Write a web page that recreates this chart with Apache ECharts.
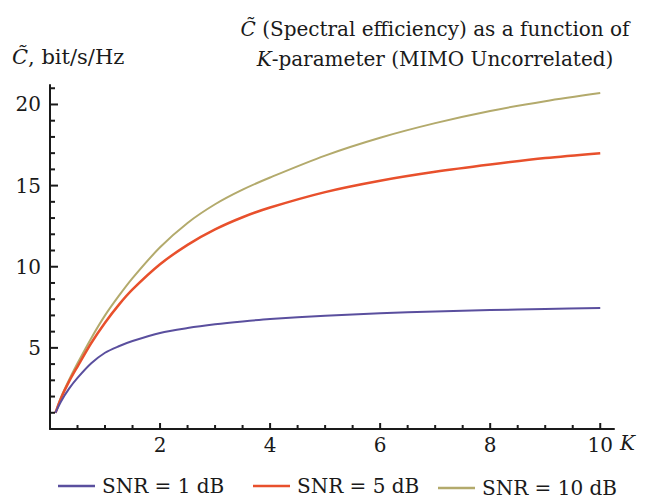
<!DOCTYPE html>
<html>
<head>
<meta charset="utf-8">
<script src="https://cdn.jsdelivr.net/npm/echarts@6/dist/echarts.min.js"></script>
<style>
  html, body { margin: 0; padding: 0; background: #fff; }
  #chart { width: 657px; height: 503px; }
</style>
</head>
<body>
<div id="chart"></div>
<script>
// values
const kValues = [0.1, 0.2, 0.35, 0.5, 0.75, 1, 1.25, 1.5, 2, 2.5, 3, 3.5, 4, 5, 6, 7, 8, 9, 10];
const snr1 = [1.0, 1.7, 2.5, 3.15, 4.05, 4.7, 5.1, 5.42, 5.92, 6.22, 6.45, 6.63, 6.78, 6.98, 7.13, 7.24, 7.33, 7.4, 7.46];
const snr5 = [1.0, 1.9, 2.95, 3.85, 5.3, 6.55, 7.65, 8.6, 10.15, 11.35, 12.3, 13.05, 13.65, 14.6, 15.3, 15.85, 16.3, 16.7, 17.0];
const snr10 = [1.0, 1.95, 3.05, 4.05, 5.6, 7.0, 8.2, 9.3, 11.2, 12.7, 13.85, 14.75, 15.5, 16.85, 17.95, 18.85, 19.6, 20.2, 20.7];
const seriesNames = ['SNR = 1 dB', 'SNR = 5 dB', 'SNR = 10 dB'];
const seriesColors = ['#5a4f9e', '#e8502c', '#b3aa6c'];
const xMajorTicks = [2, 4, 6, 8, 10];
const xMinorTicks = [0.5, 1, 1.5, 2.5, 3, 3.5, 4.5, 5, 5.5, 6.5, 7, 7.5, 8.5, 9, 9.5];
const yMajorTicks = [5, 10, 15, 20];
const yMinorTicks = [1, 2, 3, 4, 6, 7, 8, 9, 11, 12, 13, 14, 16, 17, 18, 19, 21];

const font = 'DejaVu Serif';
const ink = '#1a1a1a';
const fs = 20;

const chart = echarts.init(document.getElementById('chart'), null, { renderer: 'svg' });

const toPairs = (ys) => kValues.map((k, i) => [k, ys[i]]);

const legendText = { fontFamily: font, fontSize: fs, color: ink, padding: [0, 0, 0, 2] };

const option = {
  animation: false,
  backgroundColor: '#fff',
  textStyle: { fontFamily: font, color: ink },
  title: [
    {
      text: '{i|C\u0303} (Spectral efficiency) as a function of\n{i|K}-parameter (MIMO Uncorrelated)',
      left: 430, top: 9, textAlign: 'center',
      textStyle: {
        fontFamily: font, fontSize: fs, fontWeight: 'normal', color: ink, lineHeight: 30,
        rich: { i: { fontFamily: font, fontStyle: 'italic', fontSize: fs, color: ink, lineHeight: 30 } }
      }
    },
    {
      text: '{i|C\u0303}, bit/s/Hz',
      left: 7, top: 41,
      textStyle: {
        fontFamily: font, fontSize: 21, fontWeight: 'normal', color: ink,
        rich: { i: { fontFamily: font, fontStyle: 'italic', fontSize: 21, color: ink } }
      }
    }
  ],
  legend: seriesNames.map((name, i) => ({
    data: [name],
    left: [53, 248, 433][i],
    bottom: i === 2 ? 0 : 2,
    icon: 'rect',
    itemWidth: 37, itemHeight: 2.5,
    textStyle: legendText
  })),
  grid: { left: 50, right: 43, top: 85, bottom: 74 },
  xAxis: {
    type: 'value', min: 0, max: 10.25, interval: 2,
    name: 'K', nameLocation: 'end', nameGap: 6,
    nameTextStyle: { fontFamily: font, fontStyle: 'italic', fontSize: fs, color: ink, verticalAlign: 'top', padding: [4, 0, 0, 0] },
    axisLine: { show: true, lineStyle: { color: ink, width: 2 } },
    axisTick: { show: false },
    axisLabel: {
      fontFamily: font, fontSize: fs, color: ink, margin: 6,
      formatter: (v) => (v > 0 && v % 2 === 0 ? String(v) : '')
    },
    splitLine: { show: false }
  },
  yAxis: {
    type: 'value', min: 0, max: 21.2, interval: 5,
    axisLine: { show: true, lineStyle: { color: ink, width: 2 } },
    axisTick: { show: false },
    axisLabel: {
      fontFamily: font, fontSize: fs, color: ink, margin: 9,
      formatter: (v) => (v > 0 && v % 5 === 0 ? String(v) : '')
    },
    splitLine: { show: false }
  },
  series: [snr1, snr5, snr10].map((ys, i) => ({
    name: seriesNames[i],
    type: 'line',
    smooth: 0.3,
    symbol: 'none',
    data: toPairs(ys),
    color: seriesColors[i],
    lineStyle: { color: seriesColors[i], width: i === 1 ? 2.5 : 2 },
    z: 3 - i
  }))
};

try {
  chart.setOption(option);
} catch (e) {
  console.error(e);
}

// tick marks: positions come from the chart's own scales via convertToPixel
const tickLines = [];
const addTicks = (values, onX, len) => {
  values.forEach((v) => {
    const p = chart.convertToPixel({ gridIndex: 0 }, onX ? [v, 0] : [0, v]);
    tickLines.push({
      type: 'line',
      z: 100,
      silent: true,
      shape: onX
        ? { x1: p[0], y1: p[1], x2: p[0], y2: p[1] - len }
        : { x1: p[0], y1: p[1], x2: p[0] + len, y2: p[1] },
      style: { stroke: ink, lineWidth: 2 }
    });
  });
};
addTicks(xMajorTicks, true, 6);
addTicks(xMinorTicks, true, 4);
addTicks(yMajorTicks, false, 8);
addTicks(yMinorTicks, false, 5);

chart.setOption({ graphic: { elements: tickLines } });
</script>
</body>
</html>
